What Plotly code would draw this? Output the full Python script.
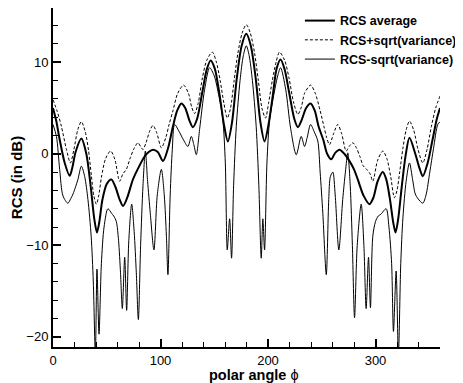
import plotly.graph_objects as go

# ---- data ----
phi_avg = [0, 3, 6.2, 10.9, 15.5, 18, 21, 26.4, 31, 35, 38.5, 40.9, 43, 46, 50, 54.3, 58, 62, 65.1,
           69, 74.4, 80, 85.2, 89, 93, 97.5, 102.3, 107, 111.6, 115.5, 119.4, 123, 127, 130.1, 134,
           139, 143, 146.6, 150.5, 155, 159, 162.7, 166.5, 171, 175.5, 179.8, 184, 188.5, 193, 196.8,
           200.5, 204.5, 208, 211.7, 215.5, 219.5, 224.5, 227.8, 231, 235.5, 239.6, 243.5, 247,
           251.5, 255, 258.8, 262.5, 266.5, 271, 275.8, 280, 283.5, 289, 294.4, 298, 302, 306.8,
           310, 313.5, 316.5, 318.6, 321, 324.5, 328, 331.6, 337, 341, 344, 348.5, 353, 357, 360]
rcs_avg = [5.0, 3.6, 1.56, -1.0, -2.4, -1.5, 0.2, 1.67, 0.0, -3.5, -7.2, -8.6, -7.5, -5.0, -3.3, -2.8,
           -3.6, -5.0, -5.7, -4.8, -2.8, -1.4, -0.3, 0.2, 0.45, 0.2, -0.8, 0.6, 3.0, 4.7, 5.5, 5.0, 3.6,
           2.9, 3.8, 6.8, 9.2, 10.2, 9.3, 6.4, 3.2, 1.35, 3.4, 8.3, 11.8, 13.1, 11.8, 8.3, 3.4, 1.35,
           3.2, 6.4, 9.3, 10.3, 9.2, 6.8, 3.8, 2.9, 3.6, 5.0, 5.5, 4.7, 3.0, 1.5, 0.0, -0.6, 0.1, 0.45,
           0.0, -0.8, -1.7, -2.8, -4.6, -5.5, -4.8, -3.0, -2.0, -2.8, -5.0, -7.5, -8.6, -7.2, -3.5,
           -0.2, 1.75, 0.0, -1.6, -2.45, -1.0, 1.5, 3.8, 5.0]

phi_plus = [0, 4, 7.8, 12.5, 16.2, 19.5, 23, 26.4, 30, 33, 35.7, 38, 40.3, 42.5, 45, 49, 53.6, 57.5,
            62, 65, 68.2, 72, 75.5, 79, 81.5, 83.7, 86.5, 90, 93, 96.5, 100.8, 105, 108, 111.6, 116,
            121.5, 126, 129, 131.7, 135, 139, 143, 148.2, 152, 155.5, 159, 162.1, 165, 168.5, 172,
            176, 179.8, 183.5, 187.5, 191, 194.5, 197.7, 200.5, 204, 207.5, 210.7, 215.5, 219.5, 224,
            227.8, 231, 234, 239.6, 244, 248.5, 252, 254.5, 257.2, 261, 264.9, 268.5, 272.7, 275.5,
            278.9, 282, 285.5, 288.5, 291.8, 295, 297.5, 302, 306.8, 310.5, 314, 317.6, 320, 322.5,
            325.5, 328.5, 331.6, 335.5, 339.5, 344, 348, 352, 356, 360]
rcs_plus = [5.9, 4.6, 3.0, 0.47, -1.0, 0.5, 2.6, 3.5, 2.4, 0.4, -2.4, -4.6, -5.5, -4.6, -2.6, -0.5, 0.3,
            -0.6, -3.0, -2.2, -1.7, -0.4, 0.6, 1.2, 0.8, 0.47, 1.2, 2.5, 3.1, 2.3, 0.65, 1.8, 3.2, 4.7,
            6.6, 7.5, 6.6, 5.1, 4.4, 5.5, 8.3, 10.2, 11.1, 10.0, 8.0, 5.5, 3.9, 4.9, 8.0, 11.0, 13.2,
            14.1, 13.2, 11.0, 8.0, 4.9, 3.9, 5.5, 8.0, 10.0, 11.1, 10.2, 8.3, 5.5, 4.3, 5.1, 6.6, 7.5,
            6.6, 4.7, 3.0, 1.8, 1.0, 2.2, 3.2, 2.2, 0.3, 0.8, 1.2, 0.7, -0.3, -1.3, -1.7, -2.2, -3.0,
            -0.7, 0.3, -0.5, -2.4, -4.8, -4.0, -2.0, 0.6, 2.6, 3.56, 2.6, 0.5, -1.0, 0.5, 3.0, 5.0, 6.3]

phi_minus = [0, 3.2, 6.2, 9.3, 13.9, 16.5, 18.6, 21, 23.2, 26.4, 29.5, 32.5, 35.5, 37.5, 39.4, 40.9,
             42.8, 45, 47.5, 51.1, 54.5, 56.5, 58.9, 61, 62.8, 64.5, 66.7, 68.5, 70.5, 73.2, 75.5,
             77.5, 79.4, 81.5, 83.7, 85.9, 88, 90.5, 93.9, 97, 100.8, 103.5, 105.5, 106.9, 109, 111,
             113.1, 117, 121, 125.5, 128.7, 131, 133.3, 136.5, 141, 145.7, 150, 154.5, 158, 160.3,
             162.1, 164.3, 166.1, 168, 170.5, 174, 177, 179.8, 182.5, 185.5, 189, 191.5, 193.7,
             195.2, 196.8, 199, 201.5, 205, 209, 211.7, 216.5, 221, 226.3, 230.9, 234, 236.5, 239.6,
             243, 246.3, 248.5, 251, 254.2, 256.5, 258, 260.3, 262.5, 265.9, 269.5, 272, 274.2,
             276.5, 278.5, 280.5, 283, 286.7, 289.2, 291.3, 293.5, 295.3, 297.5, 300, 302.5, 305,
             309.9, 312.5, 315, 316.7, 319.2, 321.3, 323.5, 325.5, 328.5, 331.6, 334.5, 337, 339.5,
             344, 347, 350.5, 354, 357.9, 360]
rcs_minus = [3.2, 1.9, -1.7, -4.6, -5.4, -4.9, -4.4, -3.6, -2.8, -1.35, -2.5, -5.0, -9.0, -14, -22,
             -12.6, -19.7, -12, -8.0, -6.0, -6.5, -6.8, -7.4, -9.5, -13, -16.9, -11.3, -17.1, -9.5,
             -5.5, -8.5, -13, -18.1, -10, -3.5, 0.3, -3.0, -6.5, -10.5, -4.5, -1.7, -4.5, -9, -13.2,
             -4.5, 0.5, 3.2, 2.5, 1.6, 0.8, 1.9, 1.0, -0.1, 2.8, 7.0, 9.4, 8.5, 6.2, 3.7, -1.0, -10.5,
             -7.1, -11.4, -3.5, 3.0, 8.0, 10.7, 11.8, 10.7, 8.0, 3.0, -3.5, -11.4, -7.1, -10.5, -1.0,
             3.7, 6.2, 8.5, 9.4, 7.0, 2.8, -0.1, 1.9, 0.8, 1.8, 3.2, 2.4, 1.4, -2.0, -6.5, -13.2, -5.0,
             -2.5, -2.0, -4.5, -10.5, -5.0, -2.0, 0.1, -3.5, -10, -17.9, -10, -5.5, -10, -16.9, -11.3,
             -16.8, -9.0, -7.4, -6.8, -6.6, -6.0, -8.0, -12, -19.4, -12.8, -22, -12, -7.0, -3.0, -1.0,
             -2.8, -4.4, -4.9, -5.4, -4.5, -2.0, 0.6, 3.2, 3.5]

names = ["RCS average", "RCS+sqrt(variance)", "RCS-sqrt(variance)"]
y_tickvals = [-20, -10, 0, 10]
x_tickvals = [0, 100, 200, 300]

FONT = "Liberation Sans, Arial, Helvetica, sans-serif"

fig = go.Figure()
fig.add_trace(go.Scatter(x=phi_avg, y=rcs_avg, mode="lines", name=names[0],
                         line=dict(color="black", width=2, shape="spline", smoothing=0.8)))
fig.add_trace(go.Scatter(x=phi_plus, y=rcs_plus, mode="lines", name=names[1],
                         line=dict(color="black", width=1, dash="3px,2px", shape="spline", smoothing=0.8)))
fig.add_trace(go.Scatter(x=phi_minus, y=rcs_minus, mode="lines", name=names[2],
                         line=dict(color="black", width=1, shape="spline", smoothing=0.8)))

# the page body adds an 8px offset, so the figure is 8px smaller on each axis
fig.update_layout(
    width=455, height=375,
    margin=dict(l=45, r=23, t=0, b=36, autoexpand=False),
    paper_bgcolor="white", plot_bgcolor="white",
    font=dict(family=FONT, size=13, color="black"),
    showlegend=True,
    legend=dict(x=0.638, y=1.006, xanchor="left", yanchor="top",
                bgcolor="rgba(0,0,0,0)", borderwidth=0,
                font=dict(family=FONT, size=12.5, color="black", weight="bold")),
    xaxis=dict(range=[0, 360], showline=True, linewidth=2, linecolor="black", mirror=False,
               showgrid=False, zeroline=False, ticks="inside", ticklen=8, tickwidth=1.5,
               tickcolor="black", tickvals=x_tickvals,
               minor=dict(dtick=20, tick0=0, ticks="inside", ticklen=5, tickwidth=1, tickcolor="black"),
               tickfont=dict(size=13)),
    yaxis=dict(range=[-21.1, 15.92], showline=True, linewidth=2, linecolor="black", mirror=False,
               showgrid=False, zeroline=False, ticks="inside", ticklen=8, tickwidth=1.5,
               tickcolor="black", tickvals=y_tickvals,
               minor=dict(dtick=2, tick0=0, ticks="inside", ticklen=5, tickwidth=1, tickcolor="black"),
               tickfont=dict(size=13),
               title=dict(text="<b>RCS (in dB)</b>", font=dict(size=15), standoff=2)),
    annotations=[dict(text="<b>polar angle</b> \u03d5", xref="paper", yref="paper",
                      x=0.52, y=0, xanchor="center", yanchor="middle", yshift=-27.5,
                      showarrow=False, font=dict(family=FONT, size=14.5, color="black"))],
)

fig.write_html("out.html")
